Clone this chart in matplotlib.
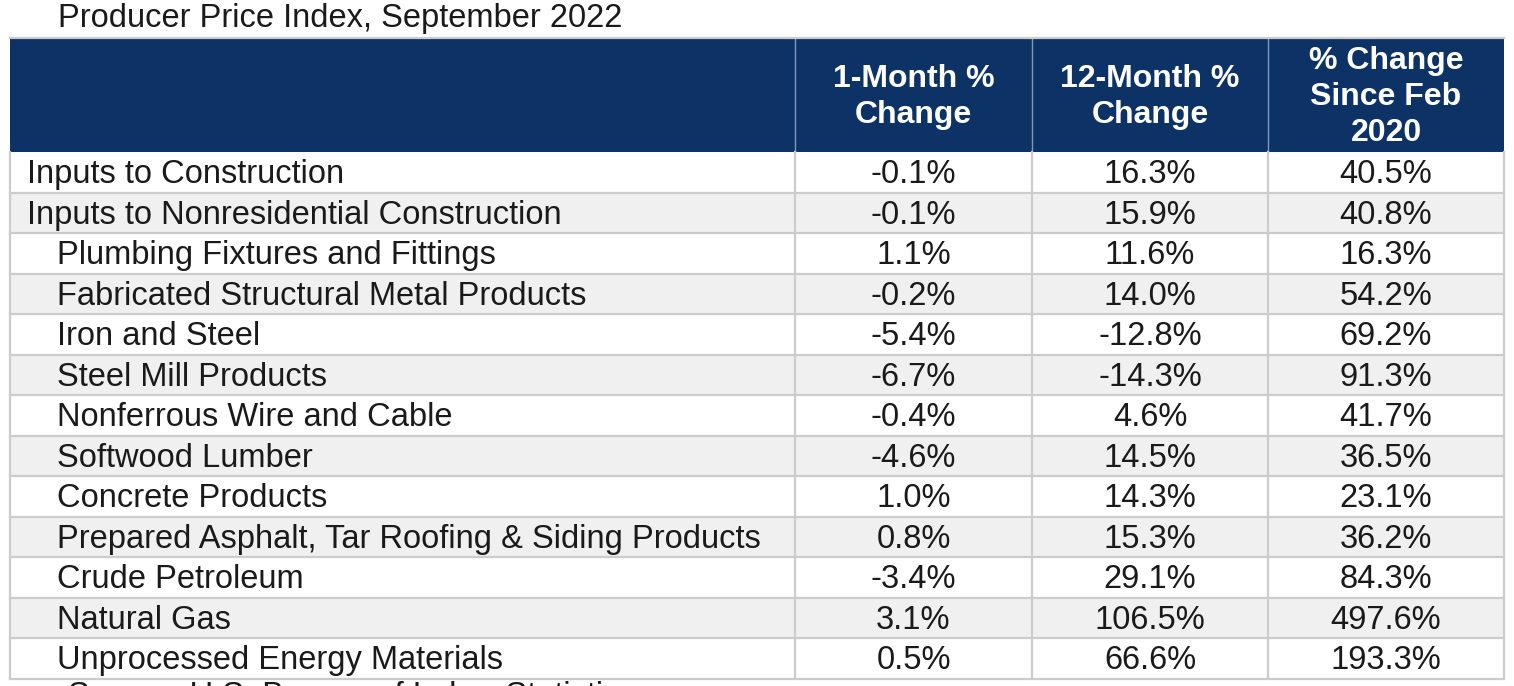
# Producer Price Index table
import matplotlib.pyplot as plt
from matplotlib.patches import Rectangle

# data
title = "Producer Price Index, September 2022"
headers = ["1-Month %\nChange", "12-Month %\nChange", "% Change\nSince Feb\n2020"]
items = [
    "Inputs to Construction",
    "Inputs to Nonresidential Construction",
    "Plumbing Fixtures and Fittings",
    "Fabricated Structural Metal Products",
    "Iron and Steel",
    "Steel Mill Products",
    "Nonferrous Wire and Cable",
    "Softwood Lumber",
    "Concrete Products",
    "Prepared Asphalt, Tar Roofing & Siding Products",
    "Crude Petroleum",
    "Natural Gas",
    "Unprocessed Energy Materials",
]
indent = [0, 0, 1, 1, 1, 1, 1, 1, 1, 1, 1, 1, 1]
one_month = [-0.1, -0.1, 1.1, -0.2, -5.4, -6.7, -0.4, -4.6, 1.0, 0.8, -3.4, 3.1, 0.5]
twelve_month = [16.3, 15.9, 11.6, 14.0, -12.8, -14.3, 4.6, 14.5, 14.3, 15.3, 29.1, 106.5, 66.6]
since_feb20 = [40.5, 40.8, 16.3, 54.2, 69.2, 91.3, 41.7, 36.5, 23.1, 36.2, 84.3, 497.6, 193.3]
source = "Source: U.S. Bureau of Labor Statistics"

# layout (pixel space)
W, H = 1514, 686
col_x = [10, 795, 1032, 1268, 1504]
head_top, head_bot = 38, 152
row_h = 40.5
navy = "#0D3366"
grid = "#CCCCCC"
shade = "#F0F0F0"
font = "Liberation Sans"
fs = 23.5

fig = plt.figure(figsize=(W / 100, H / 100), dpi=100)
ax = fig.add_axes([0, 0, 1, 1])
ax.set_xlim(0, W)
ax.set_ylim(H, 0)
ax.axis("off")

ax.text(58, 19, title, fontsize=fs, family=font, va="center", ha="left", color="#1a1a1a")

# header band
ax.add_patch(Rectangle((col_x[0], head_top), col_x[-1] - col_x[0], head_bot - head_top,
                       facecolor=navy, edgecolor="none"))
for j, h in enumerate(headers):
    cx = (col_x[j + 1] + col_x[j + 2]) / 2
    ax.text(cx, (head_top + head_bot) / 2 + 2, h, fontsize=fs - 0.5, family=font, weight="bold",
            color="white", ha="center", va="center", linespacing=1.28)
    ax.plot([col_x[j + 1]] * 2, [head_top, head_bot], color="#7F97B8", lw=1)

# body rows
cols = [one_month, twelve_month, since_feb20]
for i, name in enumerate(items):
    top = head_bot + i * row_h
    cy = top + row_h / 2 + 2.5
    if i % 2 == 1:
        ax.add_patch(Rectangle((col_x[0], top), col_x[-1] - col_x[0], row_h,
                               facecolor=shade, edgecolor="none"))
    ax.text(27 + 30 * indent[i], cy, name, fontsize=fs, family=font,
            va="center", ha="left", color="#1a1a1a")
    for j, vals in enumerate(cols):
        cx = (col_x[j + 1] + col_x[j + 2]) / 2
        ax.text(cx, cy, f"{vals[i]:.1f}%", fontsize=fs, family=font,
                va="center", ha="center", color="#1a1a1a")
    ax.plot([col_x[0], col_x[-1]], [top + row_h] * 2, color=grid, lw=1.6)

bottom = head_bot + len(items) * row_h
for x in col_x:
    ax.plot([x, x], [head_bot, bottom], color=grid, lw=1.6)
ax.plot([col_x[0], col_x[-1]], [head_top, head_top], color=grid, lw=1.6)

# source line, cut off by the bottom edge as in the original
ax.text(68, 681, source, fontsize=fs, family=font, va="top", ha="left", color="#1a1a1a")

fig.savefig("out.png", dpi=100)
